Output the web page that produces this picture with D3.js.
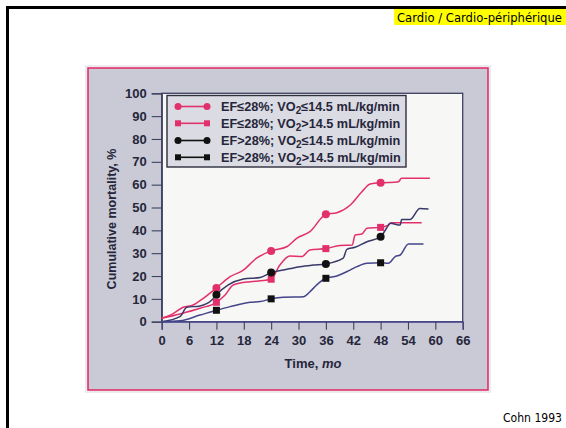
<!DOCTYPE html>
<html><head><meta charset="utf-8">
<script src="https://cdn.jsdelivr.net/npm/d3@7"></script>
<style>
html,body{margin:0;padding:0;background:#fff;}
svg{display:block;}
</style></head>
<body>
<svg id="chart" width="566" height="428"></svg>
<script>
// ---- data ----
const xTicks = [0, 6, 12, 18, 24, 30, 36, 42, 48, 54, 60, 66];
const yTicks = [0, 10, 20, 30, 40, 50, 60, 70, 80, 90, 100];
const markerMonths = [12, 24, 36, 48];

const seriesNames = [
  ["EF≤28%; VO", "2", "≤14.5 mL/kg/min"],
  ["EF≤28%; VO", "2", ">14.5 mL/kg/min"],
  ["EF>28%; VO", "2", "≤14.5 mL/kg/min"],
  ["EF>28%; VO", "2", ">14.5 mL/kg/min"]
];

const s1Months = [0, 2, 4.7, 6.9, 9.1, 12, 15, 17.9, 20.8, 24, 27.4, 29.6, 32.5, 36, 38.4, 41.3, 43.9, 45.7, 48, 49.7, 51.9, 52.6, 58.8];
const s1Values = [1.5, 3, 6.3, 7.3, 10.2, 14.8, 19.7, 22.6, 27.8, 31, 32.8, 36.5, 39.4, 47, 47.7, 51, 56.9, 60.3, 60.8, 60.9, 61.3, 62.8, 62.8];

const s2Months = [0, 4, 8.4, 12, 13.9, 15.7, 19.4, 22.3, 24, 25.9, 28.1, 30.7, 32.5, 36, 39.1, 41.8, 42.4, 43.9, 45, 48, 49.7, 50.4, 57];
const s2Values = [1.5, 3.4, 5.9, 8.5, 11.7, 16.1, 17.5, 18, 18.6, 24.8, 28.8, 28.5, 31.4, 32, 33.4, 33.6, 38, 38.4, 40.9, 41.3, 42.3, 43.3, 43.3];

const s3Months = [0, 4, 5.5, 8.4, 11, 12, 14.6, 17.9, 21.6, 24, 26.7, 30.3, 33.2, 36, 39.8, 40.6, 42.4, 45, 48, 49.3, 50.1, 52.3, 52.6, 54.5, 56.6, 58.5];
const s3Values = [0, 2.2, 6.3, 6.9, 9.5, 11.8, 16.1, 18.7, 19.4, 21.5, 22.6, 24.1, 24.8, 25.3, 27.8, 31.7, 32.6, 35, 37.2, 40.9, 43.1, 42.3, 44.8, 44.8, 49.6, 49.3];

const s4Months = [0, 4, 8.4, 12, 15, 19.4, 21.6, 24, 26.7, 31.1, 32.5, 34, 36, 38.4, 41.3, 42.8, 45, 48, 49.7, 51.2, 52.3, 54.1, 57.4];
const s4Values = [0, 0.4, 2.9, 5, 6.6, 8.5, 8.8, 10, 10.7, 10.9, 13.1, 16.1, 19, 20, 22.6, 24.1, 25.6, 25.8, 25.6, 28.5, 29.2, 34, 34];

// ---- styles ----
const PINK = "#e2306c";
const series = [
  {m: s1Months, v: s1Values, line: PINK, mark: PINK, shape: "circle"},
  {m: s2Months, v: s2Values, line: PINK, mark: PINK, shape: "square"},
  {m: s3Months, v: s3Values, line: "#38386a", mark: "#111", shape: "circle"},
  {m: s4Months, v: s4Values, line: "#44448a", mark: "#111", shape: "square"}
];

const svg = d3.select("#chart");
const FONT = "'Liberation Sans', Arial, Helvetica, sans-serif";
const TXT = "#26263a";

// page frame
svg.append("line").attr("x1", 6).attr("x2", 566).attr("y1", 7.5).attr("y2", 7.5)
  .attr("stroke", "#000").attr("stroke-width", 3);
svg.append("line").attr("x1", 7.5).attr("x2", 7.5).attr("y1", 6).attr("y2", 428)
  .attr("stroke", "#000").attr("stroke-width", 3);

// header label
svg.append("rect").attr("x", 394).attr("y", 9).attr("width", 172).attr("height", 16).attr("fill", "#ffff00");
svg.append("text").attr("x", 397).attr("y", 21.5)
  .attr("font-family", "'Comic Sans MS', 'DejaVu Sans', sans-serif").attr("font-size", 11.5)
  .attr("textLength", 165).attr("lengthAdjust", "spacingAndGlyphs")
  .attr("fill", "#000").text("Cardio / Cardio-périphérique");

// footer
svg.append("text").attr("x", 562).attr("y", 421.5).attr("text-anchor", "end")
  .attr("font-family", "'Comic Sans MS', 'DejaVu Sans', sans-serif").attr("font-size", 11.5)
  .attr("textLength", 59).attr("lengthAdjust", "spacingAndGlyphs")
  .attr("fill", "#000").text("Cohn 1993");

// figure panel
svg.append("rect").attr("x", 86).attr("y", 66).attr("width", 404).attr("height", 326)
  .attr("fill", "none").attr("stroke", "#ecebf0").attr("stroke-width", 2);
svg.append("rect").attr("x", 88).attr("y", 68).attr("width", 400).attr("height", 322)
  .attr("fill", "#c9cad6").attr("stroke", "#e0306a").attr("stroke-width", 1.6);

// scales
const x = d3.scaleLinear().domain([0, 66]).range([161.7, 462.7]);
const y = d3.scaleLinear().domain([0, 100]).range([321.7, 93.3]);

// plot area
svg.append("rect").attr("x", x(0)).attr("y", y(100)).attr("width", x(66) - x(0)).attr("height", y(0) - y(100))
  .attr("fill", "#f7f7f5").attr("stroke", "#3d4060").attr("stroke-width", 1.3);

// axes
const yAxis = svg.append("g").attr("transform", `translate(${x(0)},0)`)
  .call(d3.axisLeft(y).tickValues(yTicks).tickSize(10).tickPadding(5));
const xAxis = svg.append("g").attr("transform", `translate(0,${y(0)})`)
  .call(d3.axisBottom(x).tickValues(xTicks).tickSize(8).tickPadding(6));
[yAxis, xAxis].forEach(g => {
  g.select(".domain").attr("stroke", "#3d4060").attr("stroke-width", 1.3);
  g.selectAll(".tick line").attr("stroke", "#3d4060").attr("stroke-width", 1.1);
  g.selectAll(".tick text").attr("font-family", FONT).attr("font-weight", "bold")
    .attr("font-size", 13).attr("fill", TXT);
});
xAxis.select(".domain").attr("stroke", "#4a4a9a");

// axis titles
const xt = svg.append("text").attr("x", 313).attr("y", 367.5).attr("text-anchor", "middle")
  .attr("font-family", FONT).attr("font-weight", "bold").attr("font-size", 13).attr("fill", TXT);
xt.append("tspan").text("Time, ");
xt.append("tspan").attr("font-style", "italic").text("mo");

svg.append("text").attr("transform", "translate(116,219) rotate(-90)").attr("text-anchor", "middle")
  .attr("font-family", FONT).attr("font-weight", "bold").attr("font-size", 12.5).attr("fill", TXT)
  .text("Cumulative mortality, %");

// series lines
const line = d3.line().x(d => x(d[0])).y(d => y(d[1])).curve(d3.curveMonotoneX);
series.forEach(s => {
  const pts = s.m.map((m, i) => [m, s.v[i]]);
  svg.append("path").datum(pts).attr("d", line).attr("fill", "none")
    .attr("stroke", s.line).attr("stroke-width", 1.5);
});

function drawMarker(g, shape, cx, cy, color, size) {
  if (shape === "circle") {
    g.append("circle").attr("cx", cx).attr("cy", cy).attr("r", size / 2).attr("fill", color);
  } else {
    g.append("rect").attr("x", cx - size / 2).attr("y", cy - size / 2)
      .attr("width", size).attr("height", size).attr("fill", color);
  }
}

series.forEach(s => {
  const g = svg.append("g");
  s.m.forEach((m, i) => {
    if (markerMonths.includes(m)) {
      drawMarker(g, s.shape, x(m), y(s.v[i]), s.mark, s.shape === "circle" ? 8 : 7);
    }
  });
});

// legend
svg.append("rect").attr("x", 167).attr("y", 95.5).attr("width", 239).attr("height", 71.5)
  .attr("fill", "#dadbe3").attr("stroke", "#2e2e3e").attr("stroke-width", 1.4);
const rowY = [106.5, 123.3, 140.5, 157.3];
series.forEach((s, i) => {
  const g = svg.append("g");
  const ry = rowY[i];
  g.append("line").attr("x1", 178).attr("x2", 207).attr("y1", ry).attr("y2", ry)
    .attr("stroke", i < 2 ? PINK : "#111").attr("stroke-width", 1.6);
  drawMarker(g, s.shape, 178, ry, s.mark, s.shape === "circle" ? 7 : 6);
  drawMarker(g, s.shape, 207, ry, s.mark, s.shape === "circle" ? 7 : 6);
  const t = g.append("text").attr("x", 221).attr("y", ry + 4.5)
    .attr("font-family", FONT).attr("font-weight", "bold").attr("font-size", 12.7).attr("fill", TXT);
  t.append("tspan").text(seriesNames[i][0]);
  t.append("tspan").attr("font-size", 10).attr("dy", 3).text(seriesNames[i][1]);
  t.append("tspan").attr("dy", -3).text(seriesNames[i][2]);
});
</script>
</body></html>
